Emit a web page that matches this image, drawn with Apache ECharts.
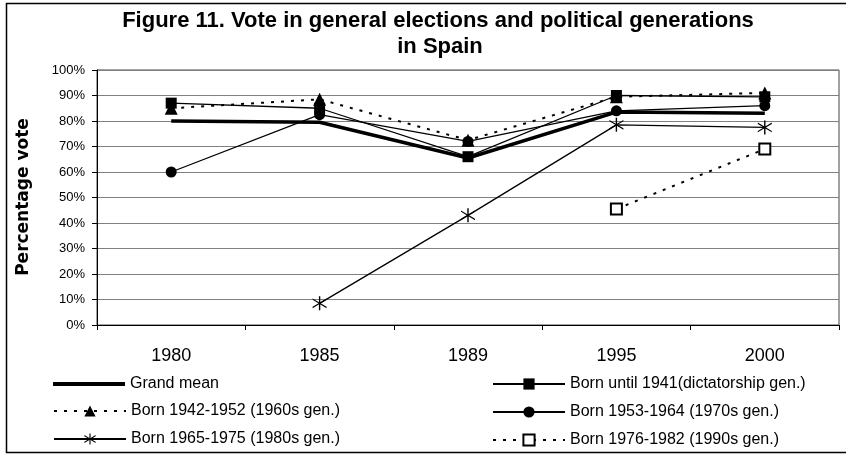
<!DOCTYPE html>
<html>
<head>
<meta charset="utf-8">
<script src="https://cdn.jsdelivr.net/npm/echarts@6/dist/echarts.min.js"></script>
<style>
html,body{margin:0;padding:0;background:#fff;}
#chart{width:846px;height:457px;}
</style>
</head>
<body>
<div id="chart"></div>
<script>
// ---- data ----
const categories = ['1980', '1985', '1989', '1995', '2000'];
const seriesNames = [
  'Grand mean',
  'Born until 1941(dictatorship gen.)',
  'Born 1942-1952 (1960s gen.)',
  'Born 1953-1964 (1970s gen.)',
  'Born 1965-1975 (1980s gen.)',
  'Born 1976-1982 (1990s gen.)'
];
const grandMean       = [80, 79.5, 65.5, 83.5, 83];
const dictatorshipGen = [87, 85, 66, 90, 89.5];
const gen1960s        = [85, 88.5, 72.5, 89.5, 91];
const gen1970s        = [60, 82.5, 72, 84, 86];
const gen1980s        = [null, 8.5, 43, 78.5, 77.5];
const gen1990s        = [null, null, null, 45.5, 69];
const yTicks = { min: 0, max: 100, interval: 10 };

const titleLines = ['Figure 11. Vote in general elections and political generations', 'in Spain'];
const yTitle = 'Percentage vote';

const asterisk = 'path://M4.5,0 L5.5,0 L5.5,10 L4.5,10 Z M0,1.5 L10,7.5 L10,8.5 L0,2.5 Z M0,7.5 L10,1.5 L10,2.5 L0,8.5 Z';

const FONT = '"Liberation Sans", Arial, sans-serif';
const chart = echarts.init(document.getElementById('chart'), null, { renderer: 'canvas' });

function mk(name, data, lineStyle, symbol, symbolSize, itemStyle) {
  return {
    name, type: 'line', data,
    symbol, symbolSize,
    showSymbol: symbol !== 'none',
    connectNulls: false,
    lineStyle: Object.assign({ color: '#000' }, lineStyle),
    itemStyle: Object.assign({ color: '#000' }, itemStyle || {}),
    emphasis: { disabled: true },
    animation: false,
    z: 2
  };
}

const legendText = { fontSize: 16, color: '#000', fontFamily: FONT };

const option = {
  backgroundColor: '#fff',
  animation: false,
  textStyle: { fontFamily: FONT, color: '#000' },
  grid: { left: 97, right: 7, top: 70, bottom: 132, show: true, borderColor: '#444', borderWidth: 1, containLabel: false },
  xAxis: {
    type: 'category', data: categories, boundaryGap: true,
    axisLine: { lineStyle: { color: '#000', width: 1 } },
    axisTick: { show: true, length: 5, lineStyle: { color: '#000' } },
    axisLabel: { fontSize: 18, color: '#000', margin: 22, fontFamily: FONT },
    splitLine: { show: false }
  },
  yAxis: {
    type: 'value', min: yTicks.min, max: yTicks.max, interval: yTicks.interval,
    axisLine: { show: true, lineStyle: { color: '#000', width: 1 } },
    axisTick: { show: true, length: 5, lineStyle: { color: '#000' } },
    axisLabel: { fontSize: 13, color: '#000', margin: 12, formatter: '{value}%', fontFamily: FONT },
    splitLine: { show: true, lineStyle: { color: '#808080', width: 1 } }
  },
  legend: [
    {
      data: [{ name: seriesNames[0], icon: 'rect' }],
      orient: 'vertical', left: 48, top: 371,
      itemWidth: 72, itemHeight: 4, itemGap: 13,
      itemStyle: { color: '#000' },
      textStyle: legendText,
      selectedMode: false
    },
    {
      data: [seriesNames[2], seriesNames[4]],
      orient: 'vertical', left: 48, top: 398,
      itemWidth: 72, itemHeight: 14, itemGap: 12,
      textStyle: legendText,
      selectedMode: false
    },
    {
      data: [seriesNames[1], seriesNames[3], seriesNames[5]],
      orient: 'vertical', left: 487, top: 371,
      itemWidth: 72, itemHeight: 14, itemGap: 12,
      textStyle: legendText,
      selectedMode: false
    }
  ],
  graphic: [
    { type: 'rect', shape: { x: 6.5, y: 3.5, width: 900, height: 449 }, style: { fill: 'none', stroke: '#000', lineWidth: 1.5 }, silent: true },
    { type: 'text', x: 438, y: 21, style: { text: titleLines[0], font: 'bold 22px ' + FONT, fill: '#000', textAlign: 'center', textVerticalAlign: 'middle' } },
    { type: 'text', x: 440, y: 47, style: { text: titleLines[1], font: 'bold 22px ' + FONT, fill: '#000', textAlign: 'center', textVerticalAlign: 'middle' } },
    { type: 'text', x: 24, y: 197, rotation: Math.PI / 2, style: { text: yTitle, font: 'bold 17px "DejaVu Sans", sans-serif', fill: '#000', textAlign: 'center', textVerticalAlign: 'middle' } }
  ],
  series: [
    mk(seriesNames[0], grandMean, { width: 3.5, type: 'solid' }, 'none', 0),
    mk(seriesNames[1], dictatorshipGen, { width: 1.3, type: 'solid' }, 'rect', 11),
    mk(seriesNames[2], gen1960s, { width: 2, type: [3, 7] }, 'triangle', 13),
    mk(seriesNames[3], gen1970s, { width: 1.3, type: 'solid' }, 'circle', 11),
    mk(seriesNames[4], gen1980s, { width: 1.3, type: 'solid' }, asterisk, 14),
    mk(seriesNames[5], gen1990s, { width: 2, type: [3, 7] }, 'emptyRect', 11, { borderWidth: 2, borderColor: '#000' })
  ]
};
chart.setOption(option);
</script>
</body>
</html>
